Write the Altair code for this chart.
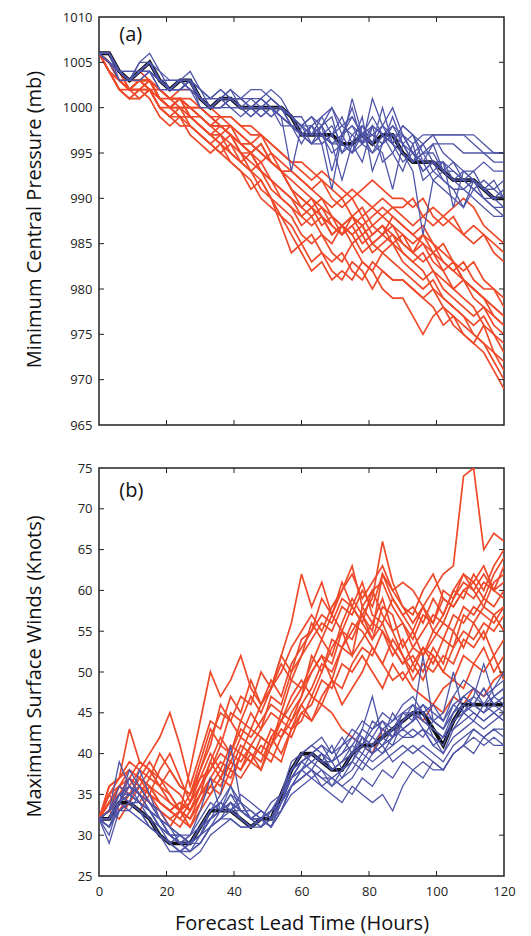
import altair as alt
import pandas as pd

T = list(range(0, 121, 3))
X_TICKS = [0, 20, 40, 60, 80, 100, 120]
P_TICKS = [965, 970, 975, 980, 985, 990, 995, 1000, 1005, 1010]
W_TICKS = [25, 30, 35, 40, 45, 50, 55, 60, 65, 70, 75]

# ---------- (a) minimum central pressure (mb) ----------
P_BLACK = [1006, 1006,1004,1003,1004,1005,1003,1002,1003,1003,1001, 1000,1001,1001,1000,1000,1000,1000,1000,999,997, 997,997,997,996,996,997,996,997,997,995, 994,994,994,993,992,992,992,991,990,990]

P_RED = [
    [1006, 1005,1004,1003,1003,1003,1002,1001,1001,1000,1000, 999,999,999,998,998,997,996,995,994,994, 993,992,991,990,991,990,989,988,989,989, 990,988,987,988,989,990,989,987,986,985],
    [1006, 1005,1003,1002,1003,1003,1001,1000,1001,1000,999, 998,999,998,997,996,997,995,994,993,992, 991,992,990,989,990,988,989,990,989,988, 987,988,989,988,987,986,987,986,985,984],
    [1006, 1005,1004,1002,1003,1003,1002,1001,1002,1002,1001, 1000,999,999,998,997,997,996,995,994,993, 992,993,992,991,990,991,992,991,990,990, 989,990,988,987,988,986,985,986,984,983],
    [1006, 1005,1003,1002,1002,1003,1001,1000,1000,999,998, 997,998,997,995,995,996,994,993,991,990, 989,990,988,987,988,989,987,986,988,987, 986,987,985,984,983,982,983,981,980,978],
    [1006, 1004,1003,1002,1003,1002,1001,1000,1001,999,999, 998,997,998,996,995,994,995,993,991,989, 990,988,987,986,988,987,985,986,987,985, 984,986,985,983,982,981,980,979,978,977],
    [1006, 1004,1002,1001,1002,1002,1000,999,1000,998,997, 996,997,995,994,995,993,992,991,990,988, 989,987,988,986,987,988,986,987,985,986, 984,985,983,982,983,981,980,979,978,977],
    [1006, 1005,1003,1002,1003,1002,1000,1000,999,999,998, 997,996,997,995,993,994,992,990,989,987, 988,986,985,987,986,984,985,986,985,984, 983,984,982,981,980,981,979,978,977,976],
    [1006, 1005,1004,1003,1003,1002,1002,1001,1001,1000,1000, 999,998,998,997,996,995,994,993,992,991, 990,989,988,987,986,987,985,984,985,983, 982,981,982,980,979,978,977,978,976,975],
    [1006, 1004,1002,1001,1001,1002,1000,999,999,998,997, 996,995,996,994,993,992,990,989,988,986, 985,986,984,983,985,983,982,984,983,982, 981,980,981,979,978,977,976,977,975,974],
    [1006, 1005,1003,1003,1003,1003,1001,1000,1000,1000,999, 998,998,997,996,995,993,992,991,990,989, 988,989,987,986,987,985,986,987,986,985, 984,983,984,982,980,979,978,976,975,973],
    [1006, 1004,1003,1002,1002,1002,1001,1000,999,999,998, 997,996,995,994,993,991,990,988,987,985, 986,984,983,984,982,981,983,982,981,981, 980,979,980,978,977,976,975,974,973,972],
    [1006, 1004,1002,1001,1002,1001,999,998,999,997,996, 995,996,994,993,992,990,989,988,986,984, 982,983,981,982,981,983,982,980,979,979, 977,975,977,978,976,975,974,976,973,971],
    [1006, 1005,1004,1003,1004,1003,1002,1001,1001,1001,1000, 999,998,997,996,995,996,994,993,991,990, 989,988,986,987,985,986,984,985,986,984, 983,982,980,979,978,977,975,974,972,970],
    [1006, 1004,1002,1002,1001,1002,1000,999,998,998,997, 996,995,994,993,991,992,990,987,984,985, 983,984,982,981,983,982,980,982,981,981, 980,979,978,976,977,975,974,973,971,969],
    [1006, 1005,1003,1002,1003,1003,1001,1000,1001,999,998, 997,997,996,995,994,993,991,990,989,988, 987,988,986,987,988,986,987,988,987,986, 985,986,984,983,982,983,981,980,980,979],
    [1006, 1005,1004,1002,1002,1003,1001,1001,1000,1000,999, 998,998,997,996,996,995,994,993,993,992, 991,990,989,990,988,987,988,989,988,987, 986,985,984,985,983,981,980,979,977,976],
]

P_BLUE = [
    [1006, 1006,1004,1003,1004,1005,1003,1002,1003,1003,1001, 1001,1001,1002,1001,1001,1000,1001,1000,999,998, 998,999,997,998,999,997,998,997,998,997, 996,997,997,997,997,997,997,996,995,995],
    [1006, 1005,1004,1003,1005,1006,1004,1003,1003,1004,1002, 1001,1002,1001,1001,1000,1001,1002,1001,999,998, 997,999,1000,998,997,996,1001,998,997,996, 997,995,996,996,996,995,995,995,994,994],
    [1006, 1006,1004,1004,1004,1005,1003,1003,1003,1003,1002, 1000,1001,1002,1000,1000,1001,1000,1000,999,998, 996,998,993,997,999,997,996,998,1000,997, 995,996,997,995,994,993,993,994,993,993],
    [1006, 1005,1004,1003,1004,1004,1003,1002,1002,1003,1001, 1000,1000,1001,1000,1000,999,1000,999,993,998, 999,997,998,996,995,998,997,996,999,996, 994,996,994,993,993,992,991,992,991,992],
    [1006, 1006,1003,1003,1003,1004,1002,1002,1002,1002,1001, 1000,1001,1000,1000,999,1000,1000,998,998,997, 998,996,991,997,995,996,998,994,995,997, 995,993,994,994,992,991,992,991,990,991],
    [1006, 1006,1004,1003,1004,1005,1004,1002,1003,1003,1001, 1001,1001,1001,1000,1001,1001,1000,1000,999,999, 997,998,996,997,1000,996,995,997,996,998, 997,994,996,993,992,993,992,990,990,990],
    [1006, 1005,1004,1003,1004,1004,1003,1002,1003,1002,1001, 1000,1001,1001,1000,1000,1000,999,1000,998,997, 996,997,995,996,1001,997,996,995,991,996, 995,994,992,993,994,992,991,990,989,989],
    [1006, 1006,1004,1003,1004,1005,1003,1002,1002,1003,1001, 1000,1000,1001,1000,999,1000,1000,999,998,997, 996,996,997,995,996,999,993,996,997,995, 993,986,992,991,990,989,991,990,989,988],
    [1006, 1005,1003,1003,1004,1004,1002,1002,1003,1002,1000, 1000,1000,1001,1001,1000,999,1000,999,998,997, 998,997,996,997,998,996,997,998,996,994, 995,993,994,992,991,989,992,991,992,990],
    [1006, 1006,1004,1004,1004,1005,1003,1003,1003,1003,1002, 1001,1002,1001,1001,1002,1002,1001,1000,999,998, 999,998,1000,997,998,997,999,997,996,998, 997,996,997,997,997,997,996,995,995,995],
    [1006, 1005,1004,1003,1004,1005,1003,1002,1002,1003,1001, 1000,1001,1000,1000,1000,1000,1000,1000,999,997, 997,997,996,996,995,997,997,996,997,997, 995,994,994,994,993,992,992,991,990,990],
    [1006, 1006,1004,1003,1004,1005,1003,1002,1003,1003,1001, 1000,1001,1001,1000,1000,1000,1001,1000,998,996, 998,996,997,999,996,994,998,997,995,993, 996,992,993,994,989,993,992,991,991,990],
    [1006, 1005,1004,1003,1005,1005,1003,1002,1003,1002,1001, 1000,1000,1001,1001,1000,1001,1000,999,998,998, 997,998,999,995,997,998,996,1000,996,995, 994,995,995,993,992,992,993,991,990,989],
    [1006, 1006,1004,1003,1003,1004,1003,1002,1002,1003,1000, 1000,1000,1000,999,1000,1000,999,1000,998,997, 996,997,996,992,996,997,995,996,998,996, 994,995,993,992,991,991,990,989,988,988],
]

# ---------- (b) maximum surface winds (knots) ----------
W_BLACK = [32, 32,34,34,33,32,30,29,29,29,31, 33,33,33,32,31,32,32,35,38,40, 40,39,38,38,40,41,41,42,43,44, 45,45,43,41,44,46,46,46,46,46]

W_RED = [
    [32, 33,36,38,37,35,34,33,34,33,36, 39,42,40,44,43,46,48,50,53,55, 57,55,58,60,62,59,61,63,60,61, 60,58,60,62,63,74,75,65,67,66],
    [32, 35,37,43,39,38,36,35,33,34,38, 41,46,44,42,45,43,47,46,50,52, 56,54,57,55,58,56,60,57,55,56, 53,55,57,56,59,61,60,62,60,63],
    [32, 34,35,36,38,40,42,45,41,36,40, 44,43,47,45,49,46,48,52,50,54, 55,59,57,61,58,56,54,58,57,53, 55,52,54,56,55,58,57,59,58,60],
    [32, 33,34,35,36,35,38,40,37,34,37, 40,38,41,40,43,42,41,45,44,47, 50,52,49,53,55,57,54,56,53,51, 52,50,53,51,55,53,56,54,57,58],
    [32, 36,37,38,37,36,34,33,32,31,34, 37,36,39,38,40,39,42,44,43,46, 48,51,50,53,52,54,56,55,52,54, 51,49,52,50,53,55,54,56,55,57],
    [32, 33,35,34,36,38,37,36,35,33,35, 39,37,40,39,41,43,45,44,47,49, 47,50,53,55,52,58,56,59,55,52, 50,53,51,54,53,57,56,58,57,55],
    [32, 34,33,35,34,36,35,34,33,35,37, 38,41,40,43,42,44,46,45,49,48, 51,54,52,56,59,57,55,62,60,58, 56,58,55,57,60,62,60,58,61,62],
    [32, 35,36,37,39,38,36,34,33,32,35, 36,38,37,40,39,38,41,43,42,45, 44,47,49,46,48,50,53,51,49,50, 48,47,46,48,49,48,51,50,52,49],
    [32, 33,35,37,35,34,33,32,33,31,33, 35,37,36,40,39,42,41,44,46,48, 50,52,51,55,54,57,59,66,61,58, 57,60,62,59,58,60,61,59,62,64],
    [32, 34,36,35,37,36,34,33,34,33,36, 38,40,39,42,41,40,43,42,45,47, 52,50,54,53,56,55,53,51,54,52, 49,51,50,52,51,54,53,55,52,54],
    [32, 33,34,36,35,37,36,38,36,35,38, 42,45,44,47,46,50,48,52,56,62, 58,61,57,60,63,58,60,61,58,56, 54,57,56,59,58,60,59,61,60,61],
    [32, 35,33,34,36,35,33,32,31,33,35, 37,39,38,41,40,38,42,40,43,45, 46,49,48,51,50,52,50,48,51,49, 51,53,52,50,49,52,51,53,50,52],
    [32, 34,36,35,37,39,37,35,33,38,44, 50,47,49,52,48,46,49,47,51,53, 55,57,56,59,58,61,57,56,59,57, 58,56,59,57,60,59,62,60,63,65],
    [32, 33,32,34,33,35,34,33,32,34,36, 35,37,39,38,41,40,39,42,44,46, 44,46,45,43,42,41,40,43,42,44, 45,44,46,45,47,46,48,47,49,50],
    [32, 36,37,39,38,37,40,38,36,35,39, 43,41,45,44,47,45,48,51,49,52, 54,56,55,58,57,60,58,62,59,57, 55,58,56,60,59,62,61,63,60,59],
    [32, 34,35,37,36,34,33,31,33,32,34, 36,35,38,37,39,41,40,39,43,44, 47,46,49,48,51,53,52,55,53,51, 53,52,55,54,57,56,58,57,56,58],
]

W_BLUE = [
    [32, 31,34,35,34,33,31,30,29,29,30, 32,33,34,33,32,32,33,35,38,39, 40,39,38,39,40,42,41,42,43,44, 45,44,43,42,44,45,46,45,46,47],
    [32, 33,39,36,35,33,31,30,29,30,32, 34,33,34,33,32,33,32,34,37,38, 39,38,37,38,39,41,40,41,42,43, 44,45,42,40,43,45,44,46,45,44],
    [32, 29,33,34,33,32,30,29,28,27,28, 30,31,32,31,31,32,31,33,36,37, 38,37,36,37,38,40,39,40,41,42, 42,43,41,40,42,43,44,43,44,45],
    [32, 32,35,34,33,31,30,29,30,29,31, 33,35,41,34,32,33,32,34,36,38, 40,39,41,38,40,43,47,42,41,44, 45,43,42,41,44,46,45,44,45,46],
    [32, 31,33,34,33,31,30,28,28,29,30, 31,32,32,31,31,32,31,33,35,36, 37,36,35,34,36,35,34,35,33,36, 38,37,39,38,40,41,42,41,42,41],
    [32, 32,34,38,36,34,32,31,30,30,31, 33,34,33,34,32,31,32,34,37,39, 40,41,39,40,42,41,43,44,42,45, 44,52,44,43,45,47,46,48,46,47],
    [32, 33,35,35,34,33,31,30,29,28,30, 32,33,35,33,33,32,31,34,38,40, 39,40,38,39,41,40,42,41,43,42, 43,42,44,45,50,45,47,51,47,48],
    [32, 30,34,36,35,34,32,30,29,29,29, 31,32,34,32,31,32,33,34,37,38, 37,38,36,38,39,38,40,41,39,40, 41,40,39,38,40,41,43,42,43,42],
    [32, 33,35,34,38,35,32,30,30,29,31, 33,34,33,33,32,33,32,35,38,39, 40,39,39,37,39,42,41,43,44,45, 46,44,43,42,45,47,46,45,47,48],
    [32, 32,34,35,34,33,32,31,29,30,33, 37,33,35,34,33,32,34,35,38,40, 41,40,39,40,41,43,42,44,43,45, 45,46,44,43,46,47,48,46,48,49],
    [32, 31,33,33,32,31,30,29,28,28,29, 31,32,33,32,31,31,32,33,36,37, 38,37,37,36,37,39,38,39,40,41, 40,41,40,39,41,42,43,42,43,43],
    [32, 33,36,35,36,34,33,31,30,29,31, 32,34,33,35,34,33,32,35,39,40, 41,42,40,41,42,44,43,45,44,46, 47,45,46,44,47,49,48,47,48,50],
    [32, 32,33,34,34,32,31,30,29,29,30, 32,33,33,32,31,32,33,34,36,37, 38,36,37,36,35,37,36,38,37,39, 38,39,38,38,40,41,40,42,41,41],
    [32, 32,35,36,34,33,31,29,28,29,30, 33,34,36,33,32,32,31,34,37,39, 40,41,40,42,40,41,44,43,42,44, 46,45,44,43,45,46,47,46,47,46],
    [32, 31,34,33,35,33,32,30,29,28,29, 31,33,34,33,32,32,31,33,36,38, 39,40,38,39,40,39,41,40,42,43, 42,43,41,42,43,44,45,44,45,44],
    [32, 33,34,37,35,33,31,30,30,29,30, 32,33,36,34,32,31,33,35,37,39, 38,40,39,41,43,42,40,42,45,43, 44,46,45,44,46,45,46,48,46,45],
]

RED = "#EE4A2A"
BLUE = "#4F55A8"
BLACK = "#111111"
FONT = "Open Sans"
W, H = 405, 408


def long_frame(black, reds, blues):
    rows = []
    for grp, members in (("red", reds), ("blue", blues), ("black", [black])):
        for i, m in enumerate(members):
            assert len(m) == len(T), (grp, i, len(m))
            for t, v in zip(T, m):
                rows.append({"t": t, "v": v, "member": f"{grp}{i}", "grp": grp})
    return pd.DataFrame(rows)


def panel(df, dom, yvals, ytitle, tag, tag_v, bottom, title_dy):
    xs = alt.Scale(domain=[0, 120], nice=False, zero=False)
    ys = alt.Scale(domain=dom, nice=False, zero=False)
    if bottom:
        xaxis = alt.Axis(values=X_TICKS, title="Forecast Lead Time (Hours)", ticks=False,
                         domain=False, grid=False, labelPadding=9, titlePadding=15,
                         labelFlush=False, format="d")
    else:
        xaxis = None
    yaxis = alt.Axis(values=yvals, title=ytitle, ticks=False, domain=False, grid=False,
                     labelPadding=7, titleX=-55, titleY=H / 2 + title_dy, format="d")
    X = alt.X("t:Q", scale=xs, axis=xaxis)
    Y = alt.Y("v:Q", scale=ys, axis=yaxis)
    base = alt.Chart(df)
    red = base.transform_filter(alt.datum.grp == "red").mark_line(
        color=RED, strokeWidth=1.7, clip=True).encode(x=X, y=Y, detail="member:N")
    blue = base.transform_filter(alt.datum.grp == "blue").mark_line(
        color=BLUE, strokeWidth=1.3, clip=True).encode(x=X, y=Y, detail="member:N")
    black = base.transform_filter(alt.datum.grp == "black").mark_line(
        color=BLACK, strokeWidth=3.8, clip=True).encode(x=X, y=Y, detail="member:N")

    xt = alt.Chart(pd.DataFrame({"t": X_TICKS[1:-1]}))
    yt = alt.Chart(pd.DataFrame({"v": yvals[1:-1]}))
    tick_style = dict(color="#222", strokeWidth=1)
    tb = xt.mark_rule(**tick_style).encode(x=X, y=alt.value(H), y2=alt.value(H - 5))
    tt = xt.mark_rule(**tick_style).encode(x=X, y=alt.value(0), y2=alt.value(5))
    tl = yt.mark_rule(**tick_style).encode(y=Y, x=alt.value(0), x2=alt.value(5))
    tr = yt.mark_rule(**tick_style).encode(y=Y, x=alt.value(W), x2=alt.value(W - 5))

    lab = alt.Chart(pd.DataFrame({"t": [6], "v": [tag_v], "s": [tag]})).mark_text(
        align="left", baseline="alphabetic", fontSize=20, font=FONT, color="#111"
    ).encode(x=X, y=Y, text="s:N")

    return alt.layer(red, black, blue, tb, tt, tl, tr, lab).properties(width=W, height=H)


top = panel(long_frame(P_BLACK, P_RED, P_BLUE), [965, 1010], P_TICKS,
            "Minimum Central Pressure (mb)", "(a)", 1007.3, False, -2)
bot = panel(long_frame(W_BLACK, W_RED, W_BLUE), [25, 75], W_TICKS,
            "Maximum Surface Winds (Knots)", "(b)", 71.4, True, -6)

chart = alt.vconcat(top, bot, spacing=28).properties(
    padding={"left": 15, "right": 5, "top": 2, "bottom": 0}
).configure_view(stroke="#222", strokeWidth=1.5).configure_axis(
    labelFont=FONT, labelFontSize=13, labelColor="#222",
    titleFont=FONT, titleFontSize=20, titleFontWeight="normal", titleColor="#111"
)

chart.save("out.html", embed_options={"renderer": "svg", "actions": False})
